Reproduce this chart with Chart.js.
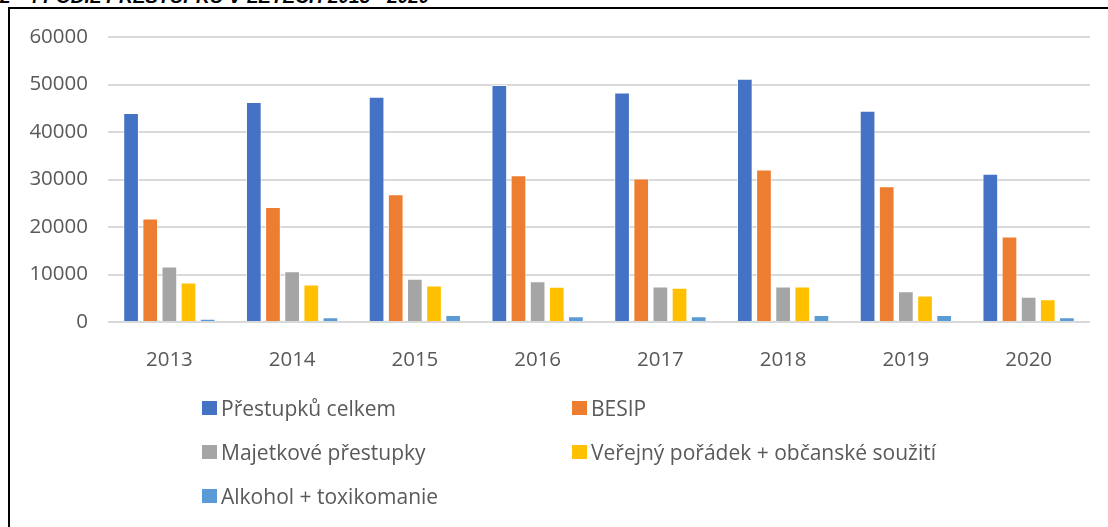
<!DOCTYPE html>
<html>
<head>
<meta charset="utf-8">
<script src="https://cdn.jsdelivr.net/npm/chart.js@4.4.1/dist/chart.umd.min.js"></script>
<style>
  html, body { margin: 0; padding: 0; background: #fff; }
  body { width: 1108px; height: 527px; position: relative; overflow: hidden; }
  #title { position: absolute; left: 0; top: -14px; font-family: "Liberation Sans", Arial, sans-serif; font-weight: bold; font-style: italic; font-size: 19px; color: #000; white-space: nowrap; }
  #frame { position: absolute; left: 8px; top: 7px; right: -10px; bottom: -10px; border-left: 2px solid #000; border-top: 2px solid #000; }
  #chart { position: absolute; left: 0; top: 0; }
  #legend { position: absolute; left: 0; top: 0; width: 1108px; height: 527px; pointer-events: none; }
  .item { position: absolute; display: flex; align-items: center; font-family: "Open Sans", sans-serif; font-size: 21px; color: #595959; white-space: nowrap; }
  .box { width: 15px; height: 14px; margin-right: 4px; }
</style>
</head>
<body>
<div id="title">2 - 4 PODÍL PŘESTUPKŮ V LETECH 2013 - 2020</div>
<div id="frame"></div>
<canvas id="chart" width="1108" height="527" style="width:1108px;height:527px"></canvas>
<div id="legend"></div>
<script>
const categories = ["2013", "2014", "2015", "2016", "2017", "2018", "2019", "2020"];
const seriesNames = ["Přestupků celkem", "BESIP", "Majetkové přestupky", "Veřejný pořádek + občanské soužití", "Alkohol + toxikomanie"];
const prestupkyCelkem = [44000, 46300, 47400, 49900, 48300, 51200, 44500, 31200];
const besip = [21800, 24200, 26900, 30900, 30200, 32100, 28600, 18000];
const majetkove = [11700, 10700, 9100, 8600, 7500, 7500, 6500, 5300];
const verejnyPoradek = [8300, 7900, 7700, 7400, 7200, 7500, 5600, 4800];
const alkohol = [700, 1000, 1500, 1200, 1200, 1500, 1500, 1000];
const yTickValues = [0, 10000, 20000, 30000, 40000, 50000, 60000];
const colors = ["#4472C4", "#ED7D31", "#A5A5A5", "#FFC000", "#5B9BD5"];

const seriesValues = [prestupkyCelkem, besip, majetkove, verejnyPoradek, alkohol];
const datasets = seriesValues.map((vals, i) => ({
  label: seriesNames[i],
  data: vals,
  backgroundColor: colors[i],
  borderColor: "rgba(255,255,255,0.7)",
  borderWidth: 1,
  categoryPercentage: 0.78,
  barPercentage: 0.82
}));

const tickFont = { family: "'Open Sans', sans-serif", size: 20.5 };

const chart = new Chart(document.getElementById("chart"), {
  type: "bar",
  data: { labels: categories, datasets },
  options: {
    responsive: false,
    animation: false,
    devicePixelRatio: 1,
    layout: { padding: { top: 37, right: 18, left: 0, bottom: 0 } },
    plugins: { legend: { display: false }, tooltip: { enabled: false }, title: { display: false } },
    scales: {
      x: {
        grid: { display: false },
        border: { display: false },
        ticks: { color: "#595959", font: tickFont, padding: 18, maxRotation: 0 },
        afterFit: (s) => { s.height = 205; }
      },
      y: {
        min: 0,
        max: 60000,
        grid: { color: "#d9d9d9", lineWidth: 2, drawTicks: false },
        border: { display: false },
        ticks: { color: "#595959", font: tickFont, padding: 20, callback: (v) => String(v) },
        afterBuildTicks: (s) => { s.ticks = yTickValues.map(v => ({ value: v })); },
        afterFit: (s) => { s.width = 108; }
      }
    }
  }
});

// HTML legend built from the chart's datasets (2 columns)
const legendPos = [
  { left: 202, top: 408 }, { left: 572, top: 408 },
  { left: 202, top: 452 }, { left: 572, top: 452 },
  { left: 202, top: 496 }
];
const legendEl = document.getElementById("legend");
chart.data.datasets.forEach((ds, i) => {
  const item = document.createElement("div");
  item.className = "item";
  item.style.left = legendPos[i].left + "px";
  item.style.top = (legendPos[i].top - 14) + "px";
  item.style.height = "28px";
  const box = document.createElement("span");
  box.className = "box";
  box.style.background = ds.backgroundColor;
  const txt = document.createElement("span");
  txt.textContent = ds.label;
  item.appendChild(box);
  item.appendChild(txt);
  legendEl.appendChild(item);
});
</script>
</body>
</html>
